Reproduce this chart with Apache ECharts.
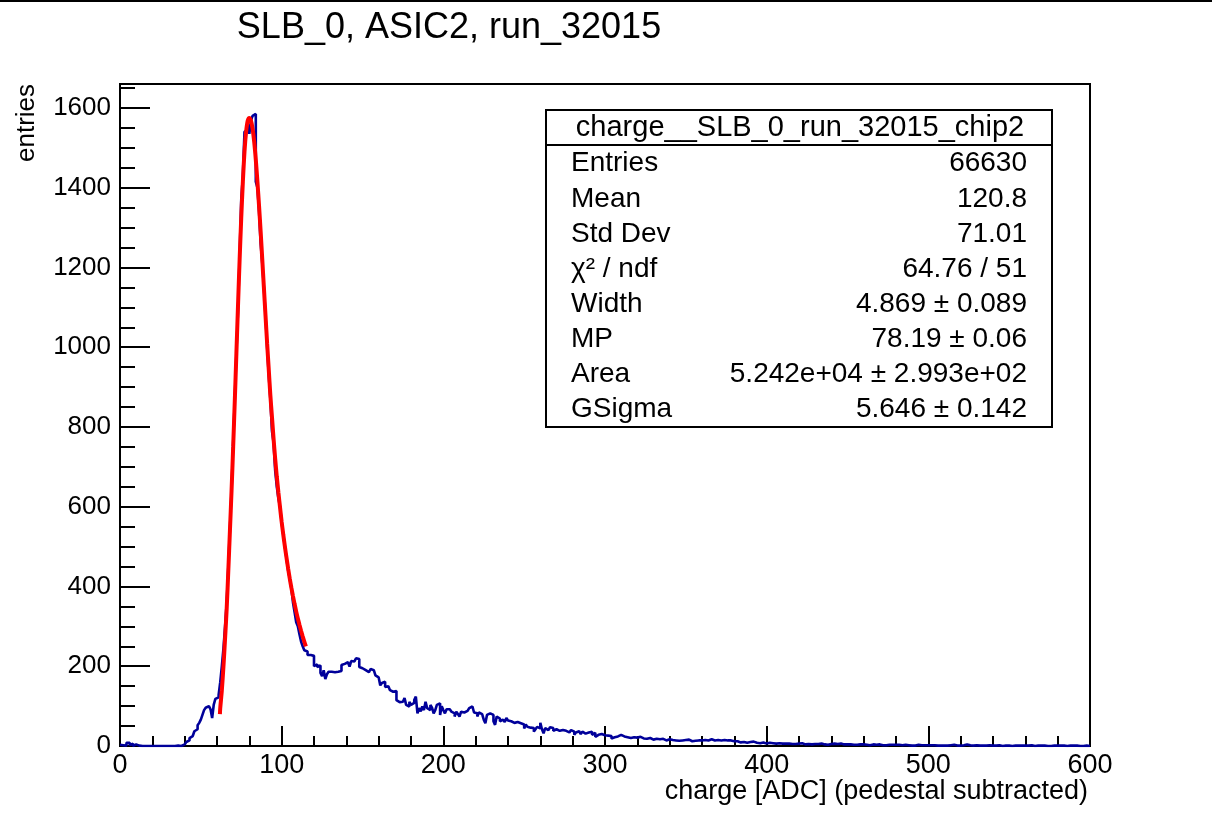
<!DOCTYPE html>
<html><head><meta charset="utf-8">
<script src="https://cdn.jsdelivr.net/npm/echarts@6/dist/echarts.min.js"></script>
<style>html,body{margin:0;padding:0;background:#fff}#c{width:1212px;height:830px}</style>
</head><body><div id="c"></div><script>
// histogram bin contents, 1 ADC per bin, bins start at 0
var counts000 = [
 3,2,0,1,8,8,2,6,0,4,
 0,1,0,0,0,0,0,0,1,0,
 0,0,0,0,0,0,0,0,0,0,
 0,0,0,0,3,1,2,0,2,4,
 6,10,14,20,25,30,37,42,52,58,
 66,78,90,96,100,104,92,70,104,118,
 122,128,160,200,245,300,360,450,545,640,
 760,870,985,1090,1230,1370,1430,1540,1545,1560,
 1535,1568,1580,1585,1415,1400,1340,1260,1210,1150,
 1080,1000,930,870,790,760,690,650,620,600];
var counts100 = [
 560,530,500,470,440,420,395,360,335,310,
 300,280,262,250,240,237,228,228,230,226,
 200,205,198,202,183,175,190,168,180,186,
 186,188,185,183,186,183,188,203,206,205,
 210,205,199,213,212,217,220,218,198,195,
 194,190,186,185,183,193,190,186,177,172,
 169,152,158,161,148,150,152,140,136,140,
 138,115,110,107,111,115,120,103,99,111,
 103,108,115,124,82,95,87,99,90,111,
 95,90,103,96,82,90,103,107,78,100];
var counts200 = [
 90,82,92,92,95,86,82,74,86,80,
 74,86,84,86,88,90,95,99,100,84,
 82,74,84,80,78,66,57,78,82,80,
 78,62,53,74,69,62,66,64,60,70,
 64,62,66,58,57,60,58,57,62,54,
 44,54,48,46,50,45,36,42,48,44,
 58,42,32,45,40,41,47,45,38,42,
 40,38,36,40,35,38,36,34,38,40,
 36,28,34,37,32,30,36,31,28,34,
 30,36,28,33,23,28,26,30,25,27];
var counts300 = [
 24,26,23,25,19,22,26,24,22,28,
 33,24,26,22,24,20,25,22,24,21,
 20,23,22,19,21,18,22,20,17,16,
 13,18,20,17,22,18,16,14,19,17,
 17,15,18,14,16,13,11,14,12,15,
 19,16,14,12,11,13,15,14,16,14,
 13,15,16,14,15,17,18,14,12,15,
 16,14,17,15,12,14,13,14,11,12,
 11,12,10,9,11,10,8,8,9,10,
 9,11,10,8,9,7,8,9,7,6];
var counts400 = [
 7,8,6,7,9,6,8,7,5,6,
 7,6,5,6,7,5,4,5,5,6,
 6,7,5,4,6,5,5,4,6,5,
 4,5,5,6,4,4,5,3,4,5,
 5,6,4,5,4,6,5,4,5,4,
 3,4,5,3,4,3,5,4,3,4,
 4,3,4,2,3,4,3,3,2,4,
 3,2,3,2,1,3,2,3,2,3,
 2,3,1,2,2,3,1,2,2,1,
 2,1,2,3,1,2,1,2,1,2];
var counts500 = [
 1,2,1,2,1,1,2,1,2,1,
 2,1,1,2,1,3,1,1,2,1,
 1,2,1,4,1,2,1,1,1,2,
 1,1,2,1,0,1,1,2,1,1,
 0,1,1,2,1,0,1,1,0,1,
 1,0,1,1,0,1,2,1,0,1,
 1,1,0,2,1,0,1,1,0,1,
 0,1,1,0,1,0,0,1,0,1,
 0,1,2,1,1,0,0,1,0,1,
 0,1,0,0,1,0,0,1,0,0];

// fit curve
var fitX = [61.8,62,63,64,65,66,67,68,69,70,71,72,73,74,75,76,77,78,79,80,81,82,83,84,85,86,87,88,89,90,91,92,93,94,95,96,97,98,99,100,101,102,103,104,105,106,107,108,109,110,111,112,113,114,115];
var fitY = [80,95,140,200,270,345,440,540,640,750,865,985,1105,1220,1325,1415,1490,1540,1568,1575,1568,1548,1515,1470,1415,1355,1290,1220,1150,1080,1010,945,880,825,770,720,675,635,598,562,530,500,472,445,420,397,376,356,337,320,304,289,275,262,250];

var xTicks = [0,100,200,300,400,500,600];
var yTicks = [0,200,400,600,800,1000,1200,1400,1600];

var titleText = 'SLB_0, ASIC2, run_32015';
var xTitle = 'charge [ADC] (pedestal subtracted)';
var yTitle = 'entries';
var statsHeader = 'charge__SLB_0_run_32015_chip2';
var statsNames = ['Entries','Mean','Std Dev','\u03c7\u00b2 / ndf','Width','MP','Area','GSigma'];
var statsValues = ['66630','120.8','71.01','64.76 / 51','4.869 \u00b1 0.089','78.19 \u00b1 0.06','5.242e+04 \u00b1 2.993e+02','5.646 \u00b1 0.142'];

var counts = counts000.concat(counts100, counts200, counts300, counts400, counts500);
var histData = counts.map(function(v,i){return [i,v];});
histData.push([counts.length, counts[counts.length-1]]);
var fitData = fitX.map(function(x,i){return [x,fitY[i]];});

var FF = '"Liberation Sans", Arial, sans-serif';
var chart = echarts.init(document.getElementById('c'), null, {renderer:'canvas'});

var gr = [];
gr.push({type:'rect', shape:{x:0,y:0,width:1212,height:2}, style:{fill:'#000'}});
gr.push({type:'text', style:{text:titleText, x:449, y:28, textAlign:'center', textVerticalAlign:'middle', font:'36px '+FF, fill:'#000'}});
gr.push({type:'text', style:{text:xTitle, x:1088, y:792, textAlign:'right', textVerticalAlign:'middle', font:'27px '+FF, fill:'#000'}});
gr.push({type:'text', x:27, y:162, rotation:Math.PI/2, style:{text:yTitle, x:0, y:0, textAlign:'left', textVerticalAlign:'middle', font:'26px '+FF, fill:'#000'}});
// stats box
gr.push({type:'rect', shape:{x:546,y:110,width:506,height:317}, style:{fill:'#fff', stroke:'#000', lineWidth:2}, z:10});
gr.push({type:'line', shape:{x1:546,y1:145,x2:1052,y2:145}, style:{stroke:'#000', lineWidth:2}, z:11});
gr.push({type:'text', z:11, style:{text:statsHeader, x:800, y:128, textAlign:'center', textVerticalAlign:'middle', font:'29px '+FF, fill:'#000'}});
var rowY = [163,199,234,269,304,339,374,409];
statsNames.forEach(function(n,i){
  gr.push({type:'text', z:11, style:{text:n, x:571, y:rowY[i], textAlign:'left', textVerticalAlign:'middle', font:'28px '+FF, fill:'#000'}});
  gr.push({type:'text', z:11, style:{text:statsValues[i], x:1027, y:rowY[i], textAlign:'right', textVerticalAlign:'middle', font:'28px '+FF, fill:'#000'}});
});

var tickStyle = {color:'#000', width:2};
chart.setOption({
  animation:false,
  backgroundColor:'#fff',
  grid:{left:120, top:84, width:970, height:662, show:true, borderColor:'#000', borderWidth:2, backgroundColor:'transparent'},
  xAxis:[{type:'value', min:xTicks[0], max:xTicks[xTicks.length-1], interval:100,
    axisLine:{show:true, onZero:false, lineStyle:tickStyle},
    axisTick:{show:true, inside:true, length:20, lineStyle:tickStyle},
    minorTick:{show:true, splitNumber:5, length:10, lineStyle:tickStyle},
    splitLine:{show:false}, minorSplitLine:{show:false},
    axisLabel:{color:'#000', fontSize:27, fontFamily:'Liberation Sans', margin:6}}],
  yAxis:[{type:'value', min:0, max:1660, interval:200,
    axisLine:{show:true, onZero:false, lineStyle:tickStyle},
    axisTick:{show:true, inside:true, length:30, lineStyle:tickStyle},
    splitLine:{show:false},
    axisLabel:{color:'#000', fontSize:26, fontFamily:'Liberation Sans', margin:9, showMaxLabel:false,
      formatter:function(v){return yTicks.indexOf(v)>=0 ? String(v) : '';}}},
   {type:'value', min:0, max:1660, interval:50, position:'left', offset:0,
    axisLine:{show:false},
    axisTick:{show:true, inside:true, length:15, lineStyle:tickStyle},
    splitLine:{show:false}, axisLabel:{show:false}}],
  series:[
    {type:'line', step:'end', data:histData, symbol:'none', xAxisIndex:0, yAxisIndex:0,
     lineStyle:{color:'#00009a', width:2.6}, z:3},
    {type:'line', data:fitData, symbol:'none', smooth:0.3, xAxisIndex:0, yAxisIndex:0,
     lineStyle:{color:'#ff0000', width:4}, z:4}
  ],
  graphic:gr
});
</script></body></html>
